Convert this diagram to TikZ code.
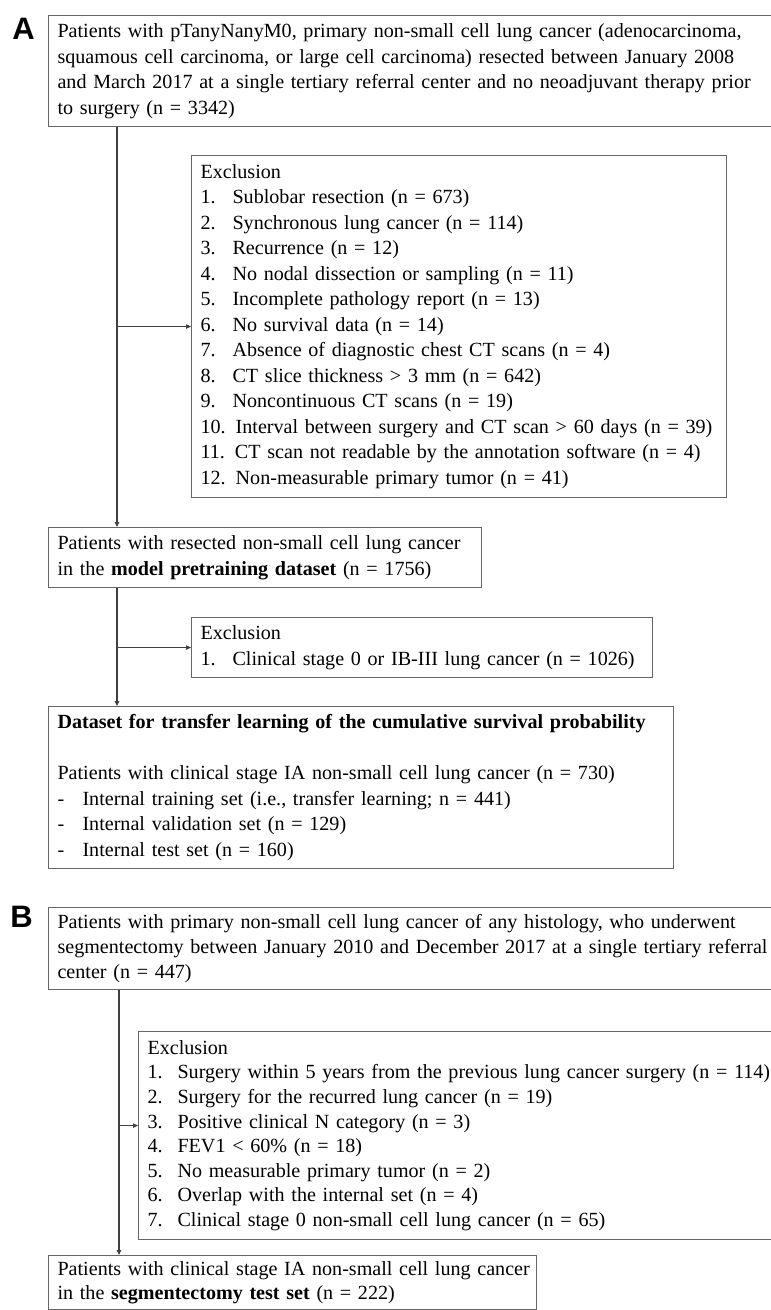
\documentclass[tikz,border=0pt]{standalone}
\usepackage{fontspec}
\setmainfont{Liberation Serif}
\newfontfamily\panelfont{Liberation Sans}
\usetikzlibrary{arrows.meta, positioning}

\newcommand{\exitem}[2]{\makebox[32pt][l]{#1}#2}
\newcommand{\exitemB}[2]{\makebox[30pt][l]{#1}#2}
\newcommand{\dashitem}[1]{\makebox[25pt][l]{-}#1}

\begin{document}
\begin{tikzpicture}[
    x=1pt, y=-1pt,
    >={Triangle[length=5pt, width=4.5pt]},
    box/.style={
        draw=black!60, line width=1.1pt, anchor=north west,
        align=left, inner xsep=9pt, inner ysep=0pt,
        font=\fontsize{20.1}{25.5}\selectfont
    },
    boxB/.style={box, font=\fontsize{20.1}{24.6}\selectfont},
    flow/.style={->, line width=1.1pt, black!75},
    panel/.style={font=\panelfont\bfseries\fontsize{31}{31}\selectfont, inner sep=0pt},
]
\useasboundingbox (0,0) rectangle (771,1310);

% ── Panel A ──
\node[panel] (labA) at (23.5,29) {A};

\node[box, text width=722pt, minimum height=111pt] (pop) at (48,15)
    {Patients with pTanyNanyM0, primary non-small cell lung cancer (adenocarcinoma,\\
     squamous cell carcinoma, or large cell carcinoma) resected between January 2008\\
     and March 2017 at a single tertiary referral center and no neoadjuvant therapy prior\\
     to surgery (n = 3342)};

\node[box, text width=517pt, minimum height=342pt] (excl1) at (191,155)
    {Exclusion\\
     \exitem{1.}{Sublobar resection (n = 673)}\\
     \exitem{2.}{Synchronous lung cancer (n = 114)}\\
     \exitem{3.}{Recurrence (n = 12)}\\
     \exitem{4.}{No nodal dissection or sampling (n = 11)}\\
     \exitem{5.}{Incomplete pathology report (n = 13)}\\
     \exitem{6.}{No survival data (n = 14)}\\
     \exitem{7.}{Absence of diagnostic chest CT scans (n = 4)}\\
     \exitem{8.}{CT slice thickness > 3 mm (n = 642)}\\
     \exitem{9.}{Noncontinuous CT scans (n = 19)}\\
     10. Interval between surgery and CT scan > 60 days (n = 39)\\
     11. CT scan not readable by the annotation software (n = 4)\\
     12. Non-measurable primary tumor (n = 41)};

\node[box, text width=415pt, minimum height=60pt] (pretrain) at (48,527)
    {Patients with resected non-small cell lung cancer\\
     in the \textbf{model pretraining dataset} (n = 1756)};

\node[box, text width=443pt, minimum height=60pt] (excl2) at (191,617)
    {Exclusion\\
     \exitem{1.}{Clinical stage 0 or IB-III lung cancer (n = 1026)}};

\node[box, text width=607pt, minimum height=162pt] (transfer) at (48,706)
    {\textbf{Dataset for transfer learning of the cumulative survival probability}\\[25.5pt]
     Patients with clinical stage IA non-small cell lung cancer (n = 730)\\
     \dashitem{Internal training set (i.e., transfer learning; n = 441)}\\
     \dashitem{Internal validation set (n = 129)}\\
     \dashitem{Internal test set (n = 160)}};

% ── Panel A connectors ──
\coordinate (trunkA) at ([xshift=69pt]pop.south west);
\draw[flow] (trunkA) -- (trunkA |- pretrain.north);
\draw[flow] (trunkA |- excl1.west) -- (excl1.west);
\draw[flow] (trunkA |- pretrain.south) -- (trunkA |- transfer.north);
\draw[flow] (trunkA |- excl2.west) -- (excl2.west);

% ── Panel B ──
\node[panel] (labB) at (21.5,917) {B};

\node[boxB, text width=722pt, minimum height=82pt] (popB) at (48,907)
    {Patients with primary non-small cell lung cancer of any histology, who underwent\\
     segmentectomy between January 2010 and December 2017 at a single tertiary referral\\
     center (n = 447)};

\node[boxB, text width=632pt, minimum height=208pt] (exclB) at (138,1031)
    {Exclusion\\
     \exitemB{1.}{Surgery within 5 years from the previous lung cancer surgery (n = 114)}\\
     \exitemB{2.}{Surgery for the recurred lung cancer (n = 19)}\\
     \exitemB{3.}{Positive clinical N category (n = 3)}\\
     \exitemB{4.}{FEV1 < 60\% (n = 18)}\\
     \exitemB{5.}{No measurable primary tumor (n = 2)}\\
     \exitemB{6.}{Overlap with the internal set (n = 4)}\\
     \exitemB{7.}{Clinical stage 0 non-small cell lung cancer (n = 65)}};

\node[boxB, text width=470pt, minimum height=54pt] (testB) at (48,1255)
    {\mbox{Patients with clinical stage IA non-small cell lung cancer}\\
     in the \textbf{segmentectomy test set} (n = 222)};

% ── Panel B connectors ──
\coordinate (trunkB) at ([xshift=71pt]popB.south west);
\coordinate (exclBin) at ([yshift=10pt]exclB.west);
\draw[flow] (trunkB) -- (trunkB |- testB.north);
\draw[flow] (trunkB |- exclBin) -- (exclBin);

\end{tikzpicture}
\end{document}
